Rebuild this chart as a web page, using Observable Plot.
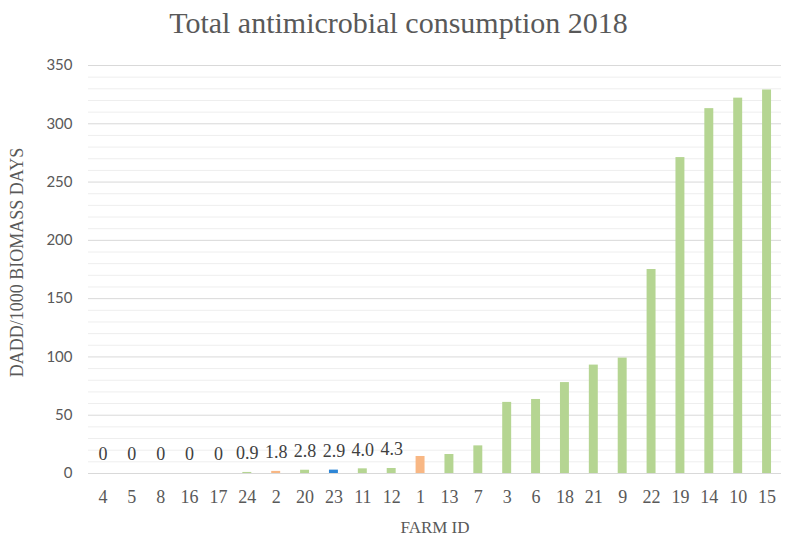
<!DOCTYPE html>
<html>
<head>
<meta charset="utf-8">
<script src="https://cdn.jsdelivr.net/npm/d3@7"></script>
<script src="https://cdn.jsdelivr.net/npm/@observablehq/plot@0.6"></script>
<style>
  html, body { margin: 0; padding: 0; background: #fff; }
  #title { height: 44px; line-height: 46px; text-align: center; font-family: "Liberation Serif", serif; font-size: 30px; color: #595959; }
  #chart svg { display: block; }
  #chart svg text { font-family: "Liberation Serif", serif; }
  #chart svg g[aria-label="y-axis tick label"] text { font-family: "Lato", sans-serif; }
</style>
</head>
<body>
<div id="title">Total antimicrobial consumption 2018</div>
<div id="chart"></div>
<script>
const farms = ["4","5","8","16","17","24","2","20","23","11","12","1","13","7","3","6","18","21","9","22","19","14","10","15"];
const values = [0,0,0,0,0,0.9,1.8,2.8,2.9,4.0,4.3,14.6,16.3,23.7,61,63.5,78,93,99,175,271,313,322,329];
const labels = ["0","0","0","0","0","0.9","1.8","2.8","2.9","4.0","4.3","","","","","","","","","","","","",""];
const groups = ["B","B","B","B","B","B","A","B","C","B","B","A","B","B","B","B","B","B","B","B","B","B","B","B"];
const yTicks = [0,50,100,150,200,250,300,350];
const minorTicks = d3.range(10, 350, 10).filter(v => v % 50 !== 0);

const data = farms.map((f, i) => ({farm: f, value: values[i], label: labels[i], group: groups[i]}));

const plot = Plot.plot({
  width: 797,
  height: 504,
  marginLeft: 88,
  marginRight: 16,
  marginTop: 21,
  marginBottom: 75,
  style: {background: "#fff"},
  x: {domain: farms, paddingInner: 0.69, paddingOuter: 0.345, round: false, label: null},
  y: {domain: [0, 350], label: null},
  color: {domain: ["A","B","C"], range: ["#F8B784","#B5D592","#2E86D6"]},
  marks: [
    Plot.ruleY(minorTicks, {stroke: "#eeeeee", strokeWidth: 1}),
    Plot.ruleY(yTicks, {stroke: "#d9d9d9", strokeWidth: 1}),
    Plot.barY(data, {x: "farm", y: "value", fill: "group"}),
    Plot.text(data, {x: "farm", y: "value", text: "label", dy: -19, fontSize: 18, fill: "#404040"}),
    Plot.axisX({tickSize: 0, tickPadding: 17, fontSize: 18, fill: "#595959", label: null}),
    Plot.axisY(yTicks, {tickSize: 0, tickPadding: 16, fontSize: 15, fill: "#595959", label: null}),
    Plot.text(["FARM ID"], {frameAnchor: "bottom", textAnchor: "middle", dy: 59, fontSize: 17, fill: "#595959"}),
    Plot.text(["DADD/1000 BIOMASS DAYS"], {frameAnchor: "left", textAnchor: "middle", dx: -71, dy: -7, rotate: -90, fontSize: 18, fill: "#595959"})
  ]
});
document.getElementById("chart").appendChild(plot);
</script>
</body>
</html>
